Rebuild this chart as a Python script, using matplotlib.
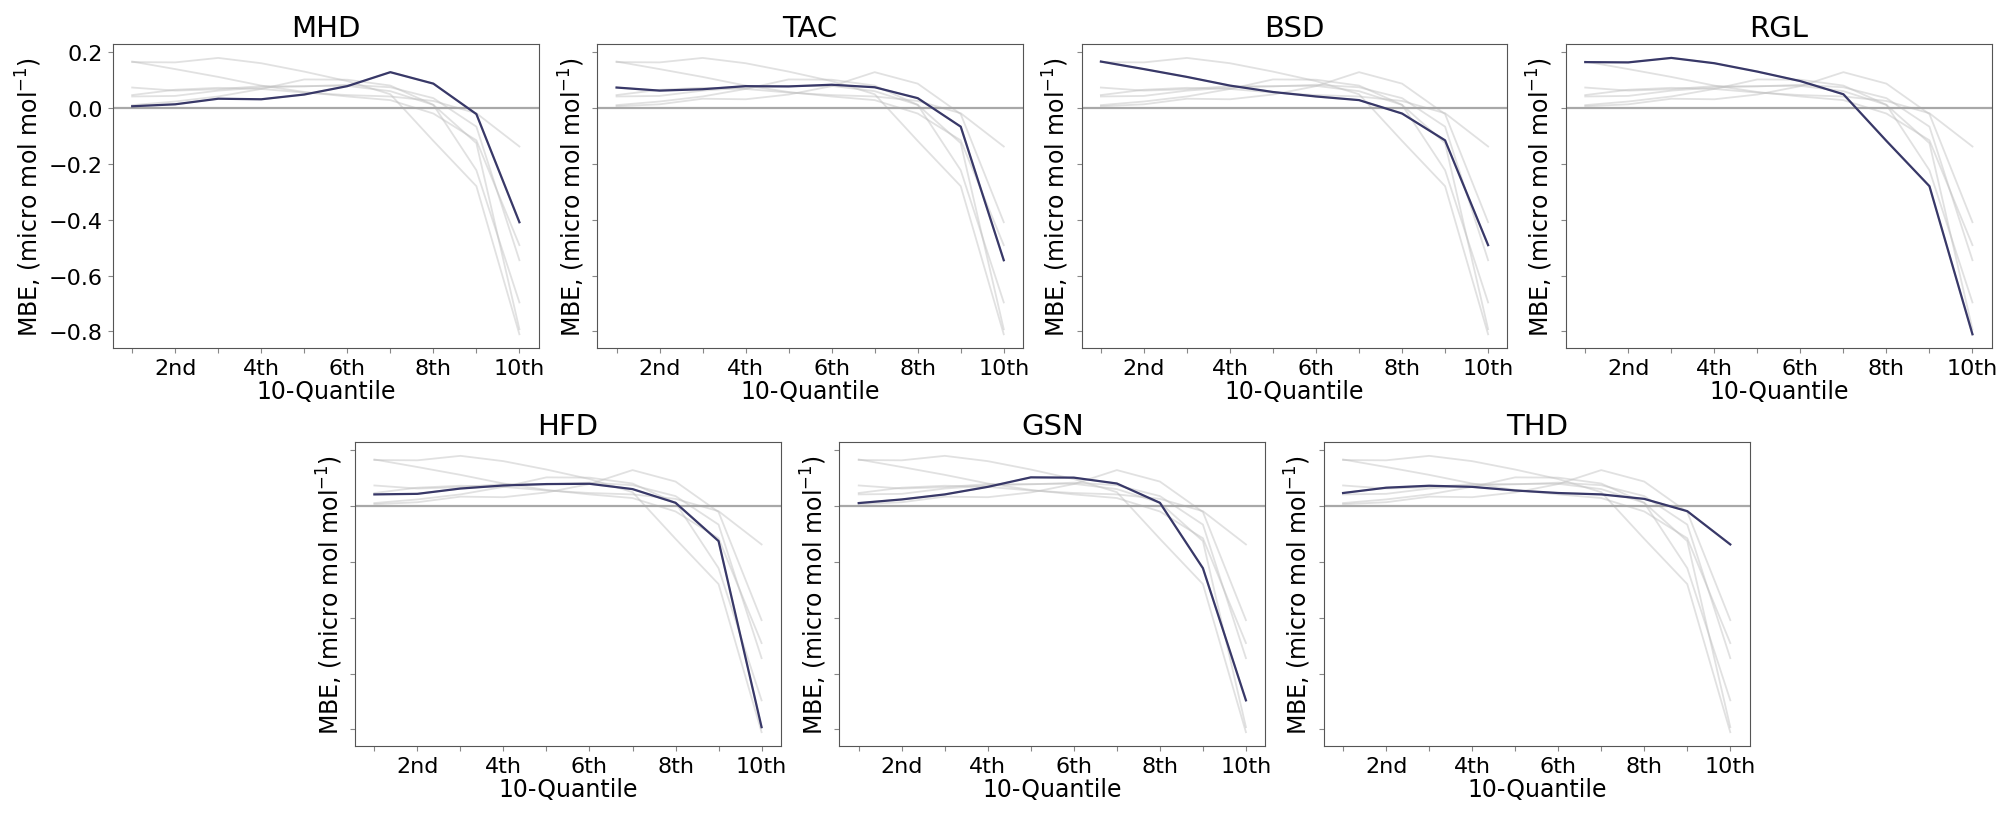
import matplotlib.pyplot as plt
import numpy as np

# MBE per decile (10-Quantile) for each station
quantiles = [1, 2, 3, 4, 5, 6, 7, 8, 9, 10]
tick_labels = ['', '2nd', '', '4th', '', '6th', '', '8th', '', '10th']
sites = ['MHD', 'TAC', 'BSD', 'RGL', 'HFD', 'GSN', 'THD']

mhd = [0.006, 0.013, 0.033, 0.031, 0.048, 0.078, 0.128, 0.087, -0.022, -0.409]
tac = [0.073, 0.062, 0.067, 0.078, 0.077, 0.083, 0.074, 0.035, -0.067, -0.545]
bsd = [0.166, 0.139, 0.111, 0.080, 0.057, 0.041, 0.028, -0.020, -0.116, -0.491]
rgl = [0.164, 0.163, 0.179, 0.160, 0.130, 0.096, 0.049, -0.118, -0.280, -0.810]
hfd = [0.041, 0.043, 0.062, 0.073, 0.078, 0.079, 0.060, 0.011, -0.126, -0.792]
gsn = [0.010, 0.023, 0.041, 0.068, 0.102, 0.101, 0.080, 0.011, -0.223, -0.696]
thd = [0.046, 0.065, 0.072, 0.068, 0.055, 0.046, 0.041, 0.025, -0.019, -0.138]

series = [mhd, tac, bsd, rgl, hfd, gsn, thd]

fig = plt.figure(figsize=(20.15, 8.2), dpi=100)
gs = fig.add_gridspec(2, 8, left=0.056, right=0.9885, top=0.945, bottom=0.089,
                      wspace=0.318, hspace=0.309)

# top row: 4 panels, bottom row: 3 panels shifted by one column
slots = [gs[0, 0:2], gs[0, 2:4], gs[0, 4:6], gs[0, 6:8],
         gs[1, 1:3], gs[1, 3:5], gs[1, 5:7]]

first = None
for k, (name, vals) in enumerate(zip(sites, series)):
    ax = fig.add_subplot(slots[k], sharey=first)
    if first is None:
        first = ax
    for other in series:
        ax.plot(quantiles, other, color='#bdbdbd', alpha=0.45, lw=1.3)
    ax.axhline(0, color='#a8a8a8', lw=1.6)
    ax.plot(quantiles, vals, color='#383868', lw=1.6)
    ax.set_title(name, fontsize=21)
    ax.set_xticks(quantiles)
    ax.set_xticklabels(tick_labels)
    ax.set_xlabel('10-Quantile', fontsize=17, labelpad=1)
    ax.set_ylabel('MBE, (micro mol mol$^{-1}$)', fontsize=17)
    ax.tick_params(labelsize=16, color='#888888', width=0.8)
    for sp in ax.spines.values():
        sp.set_color('#555555')
    if k > 0:
        ax.tick_params(labelleft=False)

first.set_yticks([0.2, 0.0, -0.2, -0.4, -0.6, -0.8])

fig.savefig('out.png', dpi=100)
